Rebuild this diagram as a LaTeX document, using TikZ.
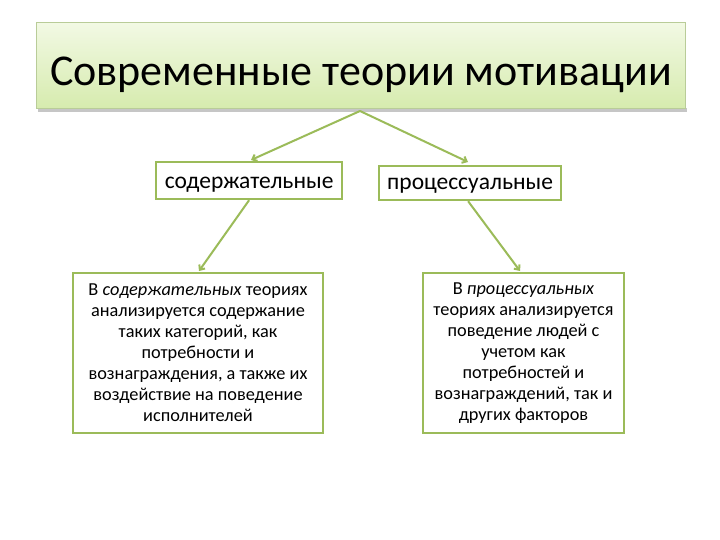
\documentclass[tikz,border=0pt]{standalone}
\usepackage{fontspec}
\setmainfont{Carlito}
\usetikzlibrary{arrows.meta,shadows}
\definecolor{olive}{HTML}{9BBB59}
\definecolor{titletop}{HTML}{F2F9E4}
\definecolor{titlebot}{HTML}{D6EBAE}
\definecolor{titleborder}{HTML}{B9CC98}
\tikzset{
  conn/.style={draw=olive, line width=2pt, -{Straight Barb[length=4pt,width=7pt]}},
  catbox/.style={draw=olive, line width=2.2pt, fill=white, inner sep=0pt, text depth=0pt, font=\fontsize{23.5}{26}\selectfont},
  descbox/.style={draw=olive, line width=2pt, fill=white, inner sep=0pt, align=center, font=\fontsize{18.3}{21}\selectfont},
}
\begin{document}
\begin{tikzpicture}[x=1pt,y=-1pt]
\useasboundingbox (0,0) rectangle (720,540);
\fill[white] (0,0) rectangle (720,540);
% title
\fill[gray!45] (38,108) rectangle (687,112);
\node[draw=titleborder, line width=1pt, top color=titletop, bottom color=titlebot, minimum width=649pt, minimum height=86pt, inner sep=0pt, text height=40pt, text depth=0pt, anchor=north west, font=\fontsize{44}{50}\selectfont] (title) at (36,22) {Современные теории мотивации};
\coordinate (tb) at (360,111);
% category boxes
\node[catbox, text height=15pt, minimum width=186pt, minimum height=37pt, anchor=north west] (cont) at (155,161) {содержательные};
\node[catbox, text height=12pt, minimum width=182pt, minimum height=34pt, anchor=north west] (proc) at (378,165) {процессуальные};
% description boxes
\node[descbox, minimum width=250pt, minimum height=160pt, anchor=north west] (d1) at (72,272) {В \textit{содержательных} теориях\\анализируется содержание\\таких категорий, как\\потребности и\\вознаграждения, а также их\\воздействие на поведение\\исполнителей};
\node[descbox, minimum width=201pt, minimum height=160pt, anchor=north west] (d2) at (422,272) {В \textit{процессуальных}\\теориях анализируется\\поведение людей с\\учетом как\\потребностей и\\вознаграждений, так и\\других факторов};
% connectors
\draw[conn] (tb) -- (251,160);
\draw[conn] (tb) -- (468,162);
\draw[conn] ([xshift=0pt]cont.south) -- (199,271);
\draw[conn] ([xshift=-2pt]proc.south) -- (520,271);
\end{tikzpicture}
\end{document}
